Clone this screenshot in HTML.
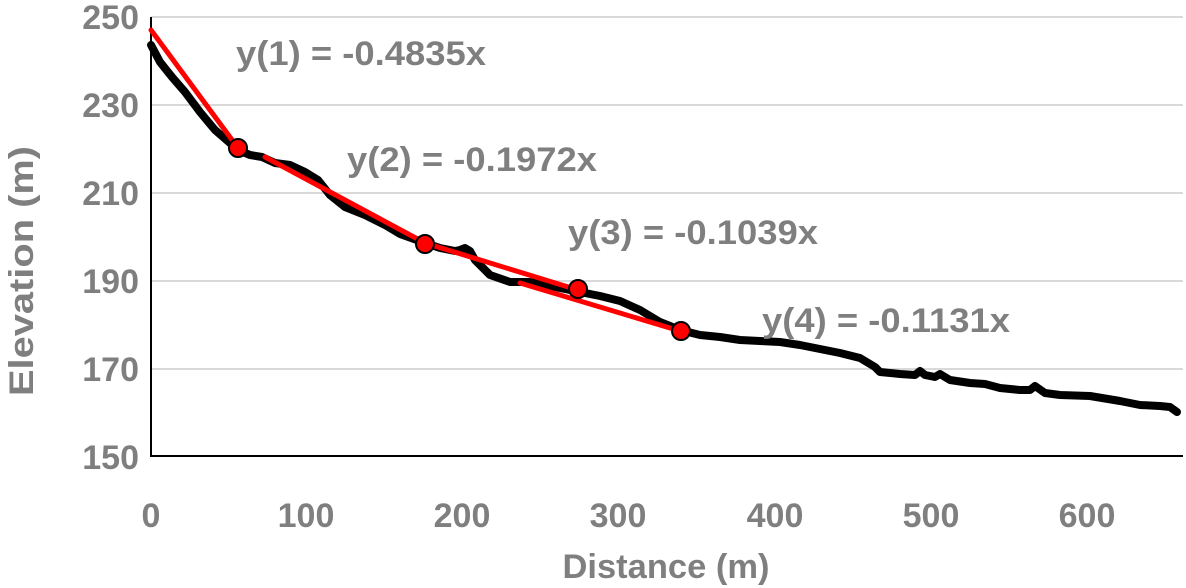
<!DOCTYPE html>
<html><head><style>
body{margin:0;background:#fff}
svg{display:block}
text{font-family:"Liberation Sans",Arial,sans-serif;font-weight:bold;fill:#7f7f7f}
</style></head><body>
<svg width="1186" height="588" viewBox="0 0 1186 588">
<g stroke="#d9d9d9" stroke-width="2">
<line x1="151" y1="17" x2="1183" y2="17"/>
<line x1="151" y1="105" x2="1183" y2="105"/>
<line x1="151" y1="193" x2="1183" y2="193"/>
<line x1="151" y1="281" x2="1183" y2="281"/>
<line x1="151" y1="369" x2="1183" y2="369"/>
</g>
<line x1="151" y1="17" x2="151" y2="457" stroke="#000" stroke-width="2"/>
<line x1="150" y1="456" x2="1183" y2="456" stroke="#000" stroke-width="2"/>
<g font-size="34" text-anchor="end">
<text x="139" y="29">250</text>
<text x="139" y="117">230</text>
<text x="139" y="205">210</text>
<text x="139" y="293">190</text>
<text x="139" y="381">170</text>
<text x="139" y="469">150</text>
</g>
<g font-size="34" text-anchor="middle">
<text x="151" y="527">0</text>
<text x="306" y="527">100</text>
<text x="462" y="527">200</text>
<text x="618" y="527">300</text>
<text x="775" y="527">400</text>
<text x="931" y="527">500</text>
<text x="1087" y="527">600</text>
<text x="666" y="578" textLength="207" lengthAdjust="spacingAndGlyphs">Distance (m)</text>
<text transform="translate(33,271) rotate(-90)" textLength="250" lengthAdjust="spacingAndGlyphs">Elevation (m)</text>
</g>
<polyline fill="none" stroke="#000" stroke-width="8" stroke-linejoin="round" stroke-linecap="round" points="151,45 160,62 172,77 185,92 200,112 215,130 230,143 238,150 250,155 262,157 275,163 290,165 305,172 318,180 330,195 345,207 365,215 385,225 400,234 425,243 440,248 455,251 460,250 465,248 470,251 475,260 490,275 510,282 530,282 560,288 600,296 620,301 640,310 660,322 680,330 700,335 720,337 740,340 760,341 780,342 800,345 820,349 840,353 860,358 875,367 880,372 900,374 915,375 920,371 925,375 935,377 940,374 950,380 970,383 985,384 1000,388 1020,390 1030,390 1035,386 1045,393 1060,395 1090,396 1120,401 1140,405 1160,406 1170,407 1177,412"/>
<g stroke="#ff0000" stroke-width="5" stroke-linecap="round">
<line x1="151" y1="30" x2="238" y2="148"/>
<line x1="265" y1="157" x2="425" y2="243"/>
<line x1="425" y1="243" x2="578" y2="290"/>
<line x1="520" y1="283" x2="680" y2="331"/>
</g>
<g fill="#ff0000" stroke="#000" stroke-width="2">
<circle cx="238" cy="148" r="9"/>
<circle cx="425" cy="244" r="9"/>
<circle cx="578" cy="289" r="9"/>
<circle cx="681" cy="331" r="9"/>
</g>
<g font-size="34">
<text x="236" y="65" textLength="250" lengthAdjust="spacingAndGlyphs">y(1) = -0.4835x</text>
<text x="347" y="171" textLength="250" lengthAdjust="spacingAndGlyphs">y(2) = -0.1972x</text>
<text x="568" y="244" textLength="250" lengthAdjust="spacingAndGlyphs">y(3) = -0.1039x</text>
<text x="762" y="332" textLength="248" lengthAdjust="spacingAndGlyphs">y(4) = -0.1131x</text>
</g>
</svg>
</body></html>
